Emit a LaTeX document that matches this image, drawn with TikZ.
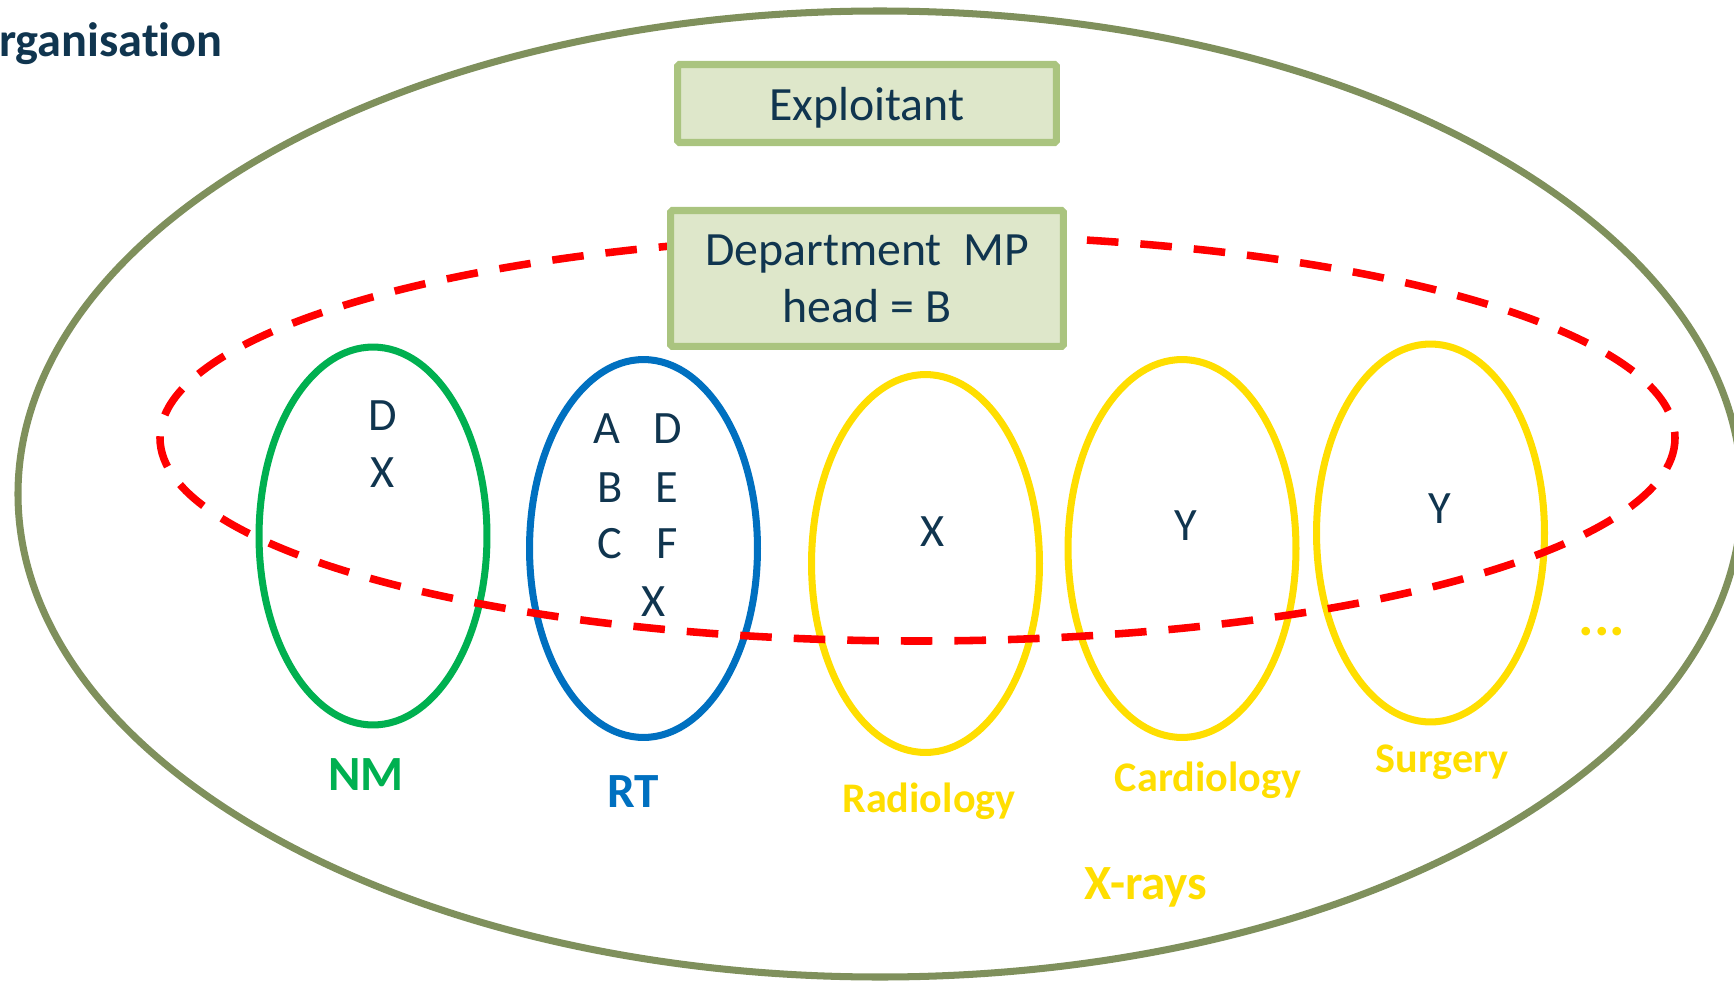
\documentclass[tikz,border=0pt]{standalone}
\usepackage{fontspec}
\setmainfont{Carlito}[Ligatures=NoCommon]
\usetikzlibrary{positioning,shapes.geometric}

\definecolor{orgnavy}{HTML}{10354F}
\definecolor{hospital}{HTML}{7F905C}
\definecolor{boxline}{HTML}{AAC47F}
\definecolor{boxfill}{HTML}{DEE7CA}
\definecolor{mpred}{HTML}{FF0000}
\definecolor{nmgreen}{HTML}{00B050}
\definecolor{rtblue}{HTML}{0070C0}
\definecolor{xyellow}{HTML}{FFDE00}

\begin{document}
\begin{tikzpicture}[x=0.02cm, y=-0.02cm]
    \tikzstyle{box}=[draw=boxline, fill=boxfill, line width=4pt, rounded corners=1pt,
                     text=orgnavy, font=\fontsize{27.2}{32.4}\selectfont, align=center, inner sep=0pt]
    \tikzstyle{unit}=[ellipse, line width=4pt, minimum width=4.56cm, minimum height=7.56cm, inner sep=0pt]
    \tikzstyle{member}=[text=orgnavy, font=\fontsize{26.4}{30}\selectfont, anchor=base, inner sep=0pt]
    \tikzstyle{unitname}=[font=\bfseries\fontsize{28}{32}\selectfont, anchor=base, inner sep=0pt]
    \tikzstyle{xrayname}=[unitname, text=xyellow, font=\bfseries\fontsize{24}{28}\selectfont]

    \useasboundingbox (0,0) rectangle (1734,983);

    \node[anchor=base east, inner sep=0pt, text=orgnavy, font=\bfseries\fontsize{27.5}{32}\selectfont]
          (title) at (223,57) {organisation};

    % hospital
    \draw[hospital, line width=4pt] (880,494) ellipse [x radius=862, y radius=483];

    % clinical units
    \node[unit, draw=nmgreen]  (nm)     at (373,536)   {};
    \node[unit, draw=rtblue]   (rt)     at (643.5,548.5) {};
    \node[unit, draw=xyellow]  (radio)  at (925.5,563.5) {};
    \node[unit, draw=xyellow]  (cardio) at (1182,548.5) {};
    \node[unit, draw=xyellow]  (surg)   at (1430.5,533) {};

    % MP department, dashed
    \draw[mpred, line width=4.3pt, dash pattern=on 18pt off 12.5pt]
          (917.5,438) ellipse [x radius=757.5, y radius=203];

    \node[box, minimum width=7.58cm, minimum height=1.56cm, text depth=0pt]
          (expl) at (867,103.5) {Exploitant};
    \node[box, below=1.22cm of expl, minimum width=7.86cm, minimum height=2.72cm]
          (dept) {Department~~MP\\head = B};

    % people
    \node[member] (nm-d) at (383,430) {D};
    \node[member] (nm-x) at (383,487) {X};
    \node[member] (rt-a) at (607,443) {A};
    \node[member] (rt-d) at (668,443) {D};
    \node[member] (rt-b) at (610,502) {B};
    \node[member] (rt-e) at (667,502) {E};
    \node[member] (rt-c) at (610,558) {C};
    \node[member] (rt-f) at (667,558) {F};
    \node[member] (rt-x) at (654,616) {X};
    \node[member] (radio-x)  at (933,546)  {X};
    \node[member] (cardio-y) at (1186,540) {Y};
    \node[member] (surg-y)   at (1440,523) {Y};

    % unit names
    \node[unitname, text=nmgreen] (nm-name)     at (366,790)  {NM};
    \node[unitname, text=rtblue]  (rt-name)     at (633,807)  {RT};
    \node[xrayname] (radio-name)  at (929,812)  {Radiology};
    \node[xrayname] (cardio-name) at (1208,791) {Cardiology};
    \node[xrayname] (surg-name)   at (1442,772) {Surgery};
    \node[unitname, text=xyellow] (xrays)       at (1146,899) {X-rays};
    \node[unitname, text=xyellow, font=\bfseries\fontsize{33}{36}\selectfont]
          (more) at (1602,635) {...};
\end{tikzpicture}
\end{document}
